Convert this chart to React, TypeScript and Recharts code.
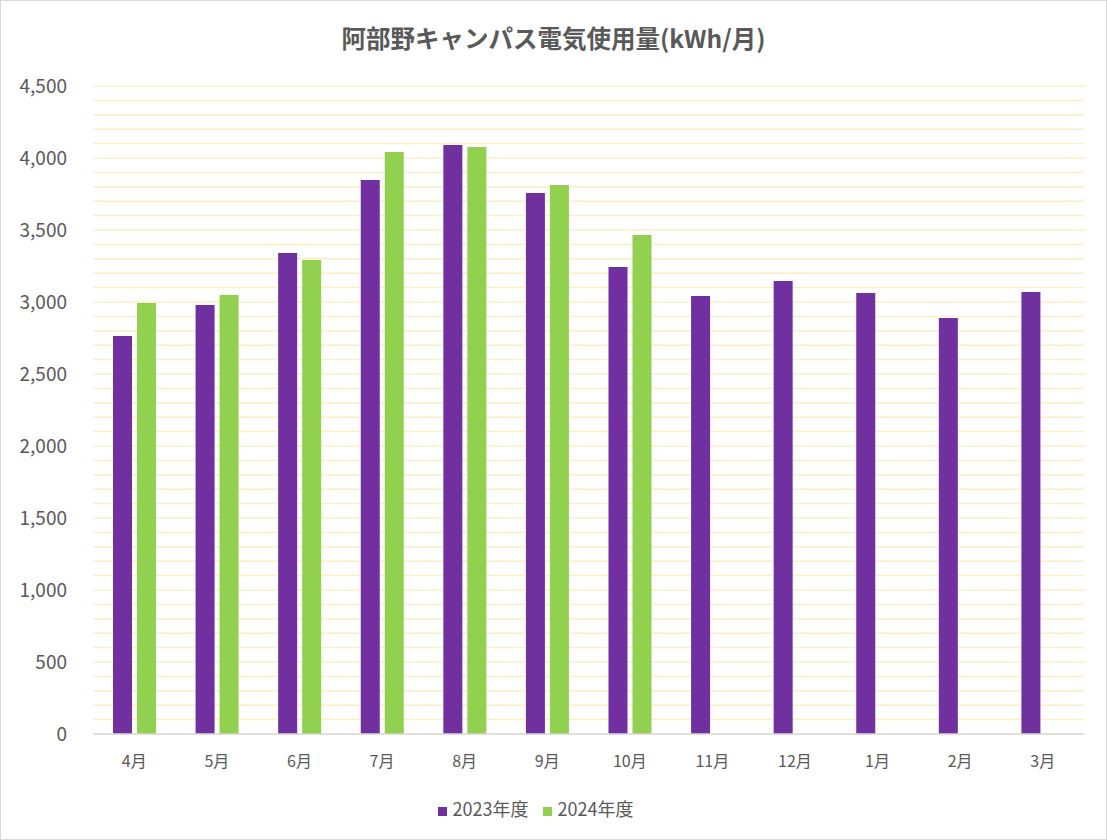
import { BarChart, Bar, XAxis, YAxis, CartesianGrid, Legend } from 'recharts'

const months = ['4月', '5月', '6月', '7月', '8月', '9月', '10月', '11月', '12月', '1月', '2月', '3月']
const usage2023 = [2764, 2979, 3340, 3847, 4090, 3757, 3243, 3042, 3146, 3063, 2889, 3069]
const usage2024 = [2993, 3049, 3292, 4042, 4076, 3813, 3465, null, null, null, null, null]
// labelled every 500, minor gridlines every 100
const gridTicks = Array.from({ length: 46 }, (_, i) => i * 100)

const data = months.map((m, i) => ({
  month: m,
  y2023: usage2023[i],
  y2024: usage2024[i],
}))

const font = '"Noto Sans CJK JP", "Noto Sans", sans-serif'

export default function App() {
  return (
    <div style={{
      position: 'absolute', left: 0, top: 0, width: 1105, height: 838,
      border: '1px solid #d9d9d9', background: '#fff', fontFamily: font,
    }}>
      <div style={{
        position: 'absolute', top: 19, left: 0, width: '100%', textAlign: 'center',
        fontSize: 24.5, lineHeight: '36px', fontWeight: 'bold', color: '#595959',
      }}>
        阿部野キャンパス電気使用量(kWh/月)
      </div>
      <BarChart
        width={1105}
        height={838}
        data={data}
        margin={{ top: 85, right: 22, left: 0, bottom: 43 }}
        barGap={5}
        barSize={19}
      >
        <CartesianGrid vertical={false} stroke="#fcefc6" strokeWidth={1.5} />
        <YAxis
          domain={[0, 4500]}
          ticks={gridTicks}
          interval={0}
          width={92}
          axisLine={false}
          tickLine={false}
          tickSize={0}
          tickMargin={26}
          tickFormatter={(v: number) => (v % 500 === 0 ? v.toLocaleString('en-US') : '')}
          tick={{ fill: '#595959', fontSize: 19, fontFamily: font }}
        />
        <XAxis
          dataKey="month"
          height={36}
          axisLine={{ stroke: '#d9d9d9', strokeWidth: 1.5 }}
          tickLine={false}
          tickMargin={16}
          tick={{ fill: '#595959', fontSize: 16, fontFamily: font }}
        />
        <Legend
          verticalAlign="bottom"
          iconType="square"
          iconSize={9}
          wrapperStyle={{ fontFamily: font, bottom: 18 }}
          formatter={(value: string) => (
            <span style={{ color: '#595959', fontSize: 18, marginLeft: 2, marginRight: 4 }}>{value}</span>
          )}
        />
        <Bar dataKey="y2023" name="2023年度" fill="#7030a0" isAnimationActive={false} />
        <Bar dataKey="y2024" name="2024年度" fill="#92d050" isAnimationActive={false} />
      </BarChart>
    </div>
  )
}
